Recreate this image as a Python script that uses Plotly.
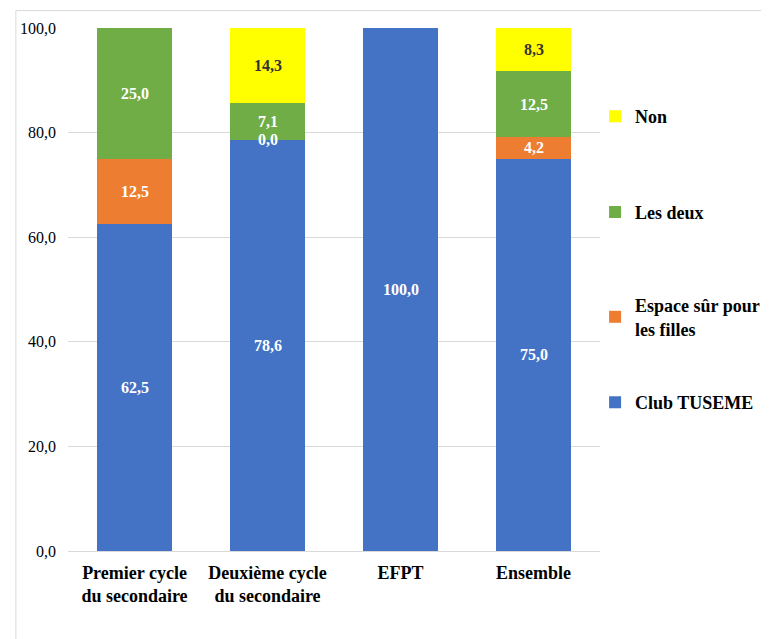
import plotly.graph_objects as go

categories = ["Premier cycle<br>du secondaire", "Deuxième cycle<br>du secondaire", "EFPT", "Ensemble"]
series_names = ["Club TUSEME", "Espace sûr pour<br>les filles", "Les deux", "Non"]
club_tuseme = [62.5, 78.6, 100.0, 75.0]
espace_sur = [12.5, 0.0, None, 4.2]
les_deux = [25.0, 7.1, None, 12.5]
non = [None, 14.3, None, 8.3]
y_ticks = [0, 20, 40, 60, 80, 100]

series_values = [club_tuseme, espace_sur, les_deux, non]
colors = ["#4472C4", "#ED7D31", "#70AD47", "#FFFF00"]
label_colors = ["white", "white", "white", "#333333"]

FONT = "Liberation Serif"
OFF = 8  # page body margin

W, H = 769, 639
L, R = 64 - OFF, W - (605 - OFF)
T, B = 26 - OFF, H - (551 - OFF)
pw = W - L - R
ph = H - T - B
plot_bottom = H - B


def py(page_y):
    return (plot_bottom - (page_y - OFF)) / ph


def px(page_x):
    return (page_x - OFF - L) / pw


# legend item page centres
legend_centres = [402, 316, 211, 115]
legend_names = ["legend", "legend2", "legend3", "legend4"]

fig = go.Figure()

base = [0.0] * len(categories)
annotations = []
for i, (name, vals) in enumerate(zip(series_names, series_values)):
    y = [v if v is not None else 0 for v in vals]
    fig.add_trace(go.Bar(
        x=categories, y=y, name=name,
        marker=dict(color=colors[i], line=dict(width=0)),
        legend=legend_names[i], showlegend=True,
        hoverinfo="skip",
    ))
    for j, v in enumerate(vals):
        if v is not None:
            annotations.append(dict(
                x=categories[j], y=base[j] + v / 2, xref="x", yref="y",
                text=f"{v:.1f}".replace(".", ","), showarrow=False,
                font=dict(family=FONT, size=16, color=label_colors[i], weight="bold"),
                yanchor="middle", xanchor="center",
            ))
        base[j] += y[j]

shapes = [
    dict(type="line", xref="paper", yref="paper",
         x0=px(11), x1=px(11), y0=py(8.5), y1=py(H + 20),
         line=dict(color="#D9D9D9", width=1)),
    dict(type="line", xref="paper", yref="paper",
         x0=px(11), x1=px(W + 20), y0=py(8.5), y1=py(8.5),
         line=dict(color="#D9D9D9", width=1)),
]

legend_font = dict(family=FONT, size=18, color="black", weight="bold")
legends = {}
for k, c in zip(legend_names, legend_centres):
    legends[k] = dict(
        x=px(600), y=py(c), xanchor="left", yanchor="middle",
        font=legend_font, itemwidth=30, bgcolor="rgba(0,0,0,0)",
    )

fig.update_layout(
    width=W, height=H,
    barmode="stack", bargap=0.43,
    separators=", ",
    showlegend=True,
    paper_bgcolor="white", plot_bgcolor="white",
    margin=dict(l=L, r=R, t=T, b=B),
    font=dict(family=FONT, color="black"),
    xaxis=dict(
        showgrid=False, ticks="", showline=False, ticklabelstandoff=9,
        tickfont=dict(family=FONT, size=18, color="black", weight="bold"),
    ),
    yaxis=dict(
        range=[0, 100], tickvals=y_ticks, tickformat=".1f",
        showgrid=True, gridcolor="#D9D9D9", gridwidth=1,
        zeroline=True, zerolinecolor="#D9D9D9", zerolinewidth=1,
        ticks="", ticklabelstandoff=11,
        tickfont=dict(family=FONT, size=16, color="black"),
    ),
    annotations=annotations,
    shapes=shapes,
    **legends,
)

fig.write_html("out.html")
